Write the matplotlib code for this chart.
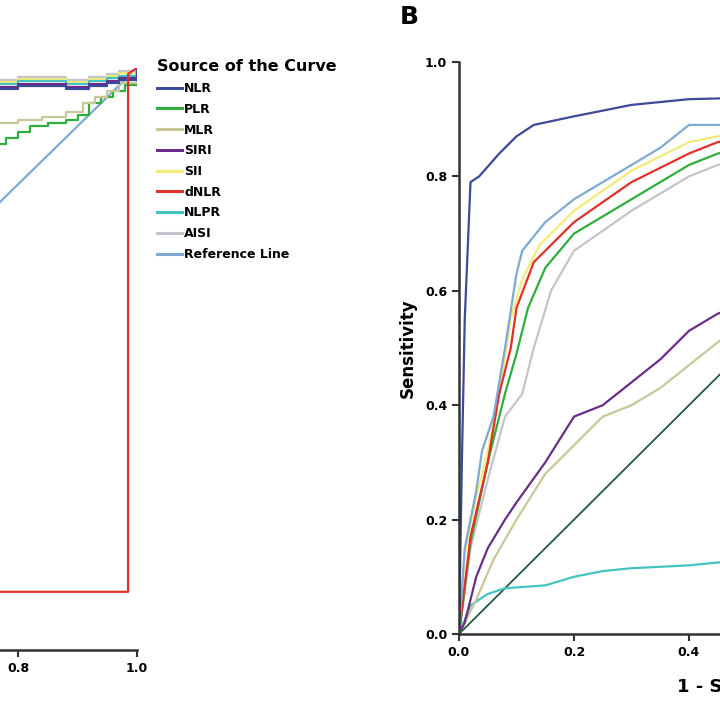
import matplotlib
matplotlib.use("Agg")
import matplotlib.pyplot as plt
from matplotlib.lines import Line2D

# Panel A (only right part visible)
a_names = ['NLR', 'PLR', 'MLR', 'SIRI', 'SII', 'dNLR', 'NLPR', 'AISI', 'Reference Line']
a_colors = ['#3b4a9a', '#2fae3e', '#c9c79a', '#6b2d8b', '#f4ea78', '#e0302a', '#45c3c3', '#c4c4cc', '#7fa9d2']
a_top_x = [0.0, 0.80, 0.85, 0.88, 0.92, 0.95, 0.97, 1.0]
a_top_y = [0.98, 0.985, 0.985, 0.98, 0.985, 0.99, 0.995, 1.0]
a_plr_x = [0.0, 0.76, 0.78, 0.80, 0.82, 0.85, 0.88, 0.90, 0.92, 0.94, 0.96, 0.98, 1.0]
a_plr_y = [0.6, 0.87, 0.88, 0.89, 0.90, 0.905, 0.91, 0.92, 0.94, 0.95, 0.96, 0.97, 1.0]
a_mlr_x = [0.0, 0.76, 0.80, 0.84, 0.88, 0.91, 0.93, 0.95, 0.97, 1.0]
a_mlr_y = [0.7, 0.905, 0.91, 0.915, 0.925, 0.94, 0.95, 0.96, 0.975, 1.0]
a_dnlr_x = [0.0, 0.985, 0.985, 1.0]
a_dnlr_y = [0.10, 0.10, 0.99, 1.0]

# Panel B (only left part visible)
b_nlr_x = [0, 0.005, 0.01, 0.02, 0.035, 0.07, 0.1, 0.13, 0.2, 0.3, 0.4, 0.6, 1.0]
b_nlr_y = [0, 0.3, 0.55, 0.79, 0.80, 0.84, 0.87, 0.89, 0.905, 0.925, 0.935, 0.94, 1.0]
b_ref2_x = [0, 0.01, 0.03, 0.04, 0.06, 0.08, 0.1, 0.11, 0.15, 0.2, 0.3, 0.35, 0.4, 0.5, 1.0]
b_ref2_y = [0, 0.15, 0.25, 0.32, 0.38, 0.5, 0.63, 0.67, 0.72, 0.76, 0.82, 0.85, 0.89, 0.89, 1.0]
b_sii_x = [0, 0.01, 0.03, 0.05, 0.07, 0.09, 0.11, 0.14, 0.2, 0.3, 0.4, 0.5, 1.0]
b_sii_y = [0, 0.14, 0.24, 0.32, 0.42, 0.55, 0.62, 0.68, 0.74, 0.81, 0.86, 0.88, 1.0]
b_dnlr_x = [0, 0.02, 0.05, 0.07, 0.09, 0.1, 0.13, 0.2, 0.3, 0.4, 0.45, 0.5, 1.0]
b_dnlr_y = [0, 0.17, 0.3, 0.42, 0.5, 0.57, 0.65, 0.72, 0.79, 0.84, 0.86, 0.87, 1.0]
b_plr_x = [0, 0.02, 0.05, 0.08, 0.1, 0.12, 0.15, 0.2, 0.3, 0.4, 0.45, 0.5, 1.0]
b_plr_y = [0, 0.16, 0.3, 0.42, 0.49, 0.57, 0.64, 0.70, 0.76, 0.82, 0.84, 0.85, 1.0]
b_aisi_x = [0, 0.02, 0.05, 0.08, 0.11, 0.13, 0.16, 0.2, 0.3, 0.4, 0.45, 0.5, 1.0]
b_aisi_y = [0, 0.15, 0.27, 0.38, 0.42, 0.50, 0.60, 0.67, 0.74, 0.80, 0.82, 0.83, 1.0]
b_siri_x = [0, 0.01, 0.03, 0.05, 0.08, 0.1, 0.15, 0.2, 0.25, 0.3, 0.35, 0.4, 0.45, 0.5, 1.0]
b_siri_y = [0, 0.02, 0.1, 0.15, 0.2, 0.23, 0.3, 0.38, 0.4, 0.44, 0.48, 0.53, 0.56, 0.58, 1.0]
b_mlr_x = [0, 0.01, 0.03, 0.06, 0.1, 0.15, 0.2, 0.25, 0.3, 0.35, 0.4, 0.45, 0.5, 1.0]
b_mlr_y = [0, 0.02, 0.06, 0.13, 0.2, 0.28, 0.33, 0.38, 0.4, 0.43, 0.47, 0.51, 0.55, 1.0]
b_nlpr_x = [0, 0.02, 0.05, 0.08, 0.15, 0.2, 0.25, 0.3, 0.4, 0.5, 0.6, 1.0]
b_nlpr_y = [0, 0.05, 0.07, 0.08, 0.085, 0.10, 0.11, 0.115, 0.12, 0.13, 0.14, 1.0]

plt.rcParams['font.family'] = ['DejaVu Sans']
fig = plt.figure(figsize=(7.2, 7.2), dpi=100)

axA = fig.add_axes([-458 / 720, 70 / 720, 595 / 720, 582 / 720])
axB = fig.add_axes([459 / 720, 86 / 720, 575 / 720, 572 / 720])

lw = 1.6
axA.plot([0, 1], [0, 1], color=a_colors[8], lw=lw)
axA.plot(a_plr_x, a_plr_y, color=a_colors[1], lw=lw, drawstyle='steps-post')
axA.plot(a_mlr_x, a_mlr_y, color=a_colors[2], lw=lw, drawstyle='steps-post')
for i, c in enumerate([a_colors[7], a_colors[4], a_colors[6], a_colors[3], a_colors[0]]):
    axA.plot(a_top_x, [y - 0.004 * i for y in a_top_y[:-1]] + [1.0], color=c, lw=lw, drawstyle='steps-post')
axA.plot(a_dnlr_x, a_dnlr_y, color=a_colors[5], lw=lw)

axB.plot([0, 1], [0, 1], color='#1f5a3a', lw=1.3)
axB.plot(b_nlpr_x, b_nlpr_y, color=a_colors[6], lw=lw)
axB.plot(b_mlr_x, b_mlr_y, color=a_colors[2], lw=lw)
axB.plot(b_siri_x, b_siri_y, color=a_colors[3], lw=lw)
axB.plot(b_aisi_x, b_aisi_y, color=a_colors[7], lw=lw)
axB.plot(b_plr_x, b_plr_y, color=a_colors[1], lw=lw)
axB.plot(b_sii_x, b_sii_y, color=a_colors[4], lw=lw)
axB.plot(b_dnlr_x, b_dnlr_y, color=a_colors[5], lw=lw)
axB.plot(b_ref2_x, b_ref2_y, color=a_colors[8], lw=lw)
axB.plot(b_nlr_x, b_nlr_y, color=a_colors[0], lw=lw)

ticks = [0.0, 0.2, 0.4, 0.6, 0.8, 1.0]
for ax in (axA, axB):
    ax.set_xlim(0, 1)
    ax.set_ylim(0, 1)
    ax.set_xticks(ticks)
    ax.set_yticks(ticks)
    ax.spines['top'].set_visible(False)
    ax.spines['right'].set_visible(False)
    ax.spines['left'].set_linewidth(1.8)
    ax.spines['bottom'].set_linewidth(1.8)
    ax.spines['left'].set_color('#333333')
    ax.spines['bottom'].set_color('#333333')
    ax.tick_params(length=5, width=1.5, color='#333333')

axB.set_xticklabels([f'{t:.1f}' for t in ticks], fontweight='bold', fontsize=9)
axB.set_yticklabels([f'{t:.1f}' for t in ticks], fontweight='bold', fontsize=9)
# panel A: only the labels that fall inside the picture
axA.set_xticklabels([f'{t:.1f}' if t >= 0.8 else '' for t in ticks], fontweight='bold', fontsize=9)
axA.set_yticklabels([])

axB.set_ylabel('Sensitivity', fontweight='bold', fontsize=12, labelpad=6)
axB.set_xlabel('1 - Specificity', fontweight='bold', fontsize=13, labelpad=14)
fig.text(400 / 720, 1 - 17 / 720, 'B', fontsize=18, fontweight='bold', va='center')

handles = [Line2D([], [], color=c, lw=2.2) for c in a_colors]
leg = fig.legend(handles, a_names, loc='upper left', bbox_to_anchor=(146 / 720, 1 - 48 / 720),
                 frameon=False, title='Source of the Curve', handlelength=2.0,
                 handletextpad=0.15, labelspacing=0.62, prop={'weight': 'bold', 'size': 9},
                 title_fontproperties={'weight': 'bold', 'size': 11.5})
leg._legend_box.align = 'left'

fig.savefig('out.png', dpi=100)
